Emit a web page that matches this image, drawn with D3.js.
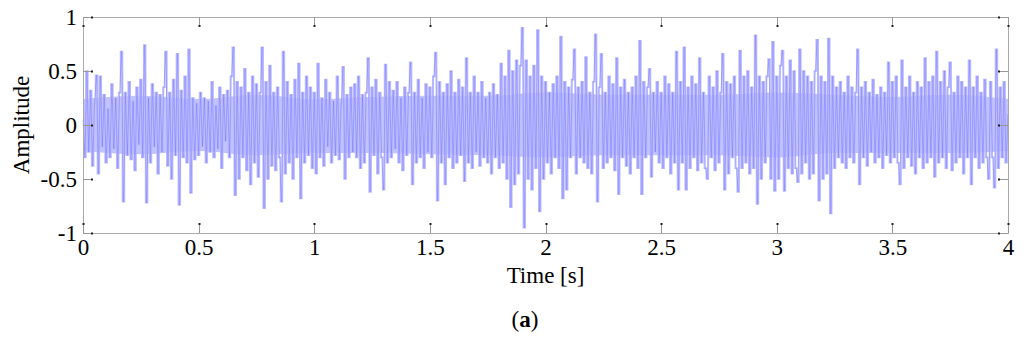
<!DOCTYPE html>
<html>
<head>
<meta charset="utf-8">
<script src="https://cdn.jsdelivr.net/npm/d3@7"></script>
<style>
  body { margin: 0; background: #fff; }
  text { font-family: "Liberation Serif", "Times New Roman", serif; fill: #000; }
</style>
</head>
<body>
<div id="chart"></div>
<script>
// signal samples (one value every 1/120 s)
var amplitude = [
  .05,-.3,.5,-.25,.32,-.38,.2,.46,-.45,.45,-.2,.28,-.35,.15,-.3,.38,-.22,.25,-.4,.3,
  .68,-.71,.3,-.28,.4,-.32,.22,-.42,.35,-.18,.42,-.3,.74,-.72,.25,-.35,.38,-.2,.3,-.45,
  .28,-.25,.35,.68,-.38,.3,-.5,.42,-.28,.66,-.74,.32,-.3,.45,-.35,.7,-.63,.25,-.32,.2,
  -.28,.3,-.2,.25,-.35,.22,-.25,.4,-.3,.18,-.22,.35,-.4,.28,-.15,.32,-.3,.45,.72,-.65,
  .4,-.5,.35,-.3,.52,-.42,.3,-.55,.45,-.35,.38,-.48,.3,.72,-.77,.4,-.5,.55,-.38,.3,
  -.42,.35,-.3,-.71,.68,-.45,.4,-.35,.28,-.5,.42,-.3,.57,-.68,.3,-.35,.45,-.28,.35,-.4,
  .3,-.45,.57,-.3,.25,-.38,.42,-.2,.3,-.35,.22,-.28,.45,-.32,.2,.54,-.5,.28,-.3,.35,
  -.25,.38,-.3,.45,-.4,.28,-.35,.3,.62,-.62,.35,-.28,.42,-.45,.3,-.3,-.6,.56,-.35,.4,
  -.3,.32,-.22,.4,-.35,.25,-.42,.35,-.28,.3,.58,-.55,.3,-.35,.42,-.3,.25,-.4,.38,-.25,
  .35,-.3,.45,.67,-.7,.4,-.35,.3,-.55,.38,-.3,.5,-.4,.3,-.35,.42,-.28,.35,-.52,.62,
  -.35,.3,-.4,.45,-.25,.3,-.38,.4,-.3,.25,-.35,.3,-.45,.38,-.3,.28,-.4,.57,-.35,.45,
  -.5,.69,-.76,.5,-.55,.6,-.45,.55,.9,-.95,.6,-.5,.45,-.6,.55,-.4,.88,-.8,.45,-.5,
  .4,-.35,.3,-.45,.38,-.3,.45,-.4,.82,-.68,.4,-.6,.35,-.3,.42,.7,-.45,.35,-.3,.4,
  -.35,.63,-.4,.3,-.45,.4,.84,-.71,.35,.66,-.4,.3,-.35,.45,-.3,.38,-.42,.62,-.64,.35,
  -.3,.42,-.38,.3,-.45,.35,-.3,.45,-.4,.78,-.64,.4,-.3,.35,.52,-.48,.3,-.25,.4,-.35,
  .3,-.4,.45,-.3,.38,-.45,.3,-.35,.68,-.6,.4,-.35,.72,-.6,.35,-.4,.45,-.3,.38,-.42,
  .62,-.35,.3,-.4,-.5,.45,-.3,.35,-.42,.5,-.35,.3,.66,-.6,.4,-.45,.38,-.3,.45,-.4,
  -.62,.69,-.4,.45,-.35,.5,-.45,.35,-.4,.83,-.73,.45,-.5,.4,-.35,.45,.61,-.5,.77,-.61,
  .45,-.5,.55,.69,-.61,.45,-.4,.6,-.45,.5,-.4,-.53,.7,-.45,.5,-.35,.45,-.5,.4,-.45,
  .5,.79,-.7,.45,-.5,.4,-.45,.8,-.82,.45,-.4,.35,-.3,.4,-.35,.3,-.4,.45,-.3,.35,
  -.35,.3,.7,-.55,.35,-.3,.4,-.38,.3,-.25,.42,-.35,.28,-.3,.35,-.4,.3,-.28,.58,-.35,
  .4,-.3,.45,-.35,-.55,.6,-.4,.35,-.3,.45,-.38,.3,-.45,.4,-.3,.35,-.4,.62,-.35,.4,
  -.3,.45,-.48,.68,-.35,.4,-.3,.5,-.4,.35,.58,-.42,.3,-.35,.45,-.3,.4,-.45,.35,-.3,
  .6,-.55,.35,-.3,.45,-.4,.3,-.35,.42,-.3,-.5,.4,-.3,-.58,.7,-.4,.35,-.3,.4,-.35,
  .1
];
var sampleRate = 120;

// dense body of the trace, read every 0.25 s
var coreTime  = [0, .25, .5, .75, 1, 1.25, 1.5, 1.75, 2, 2.25, 2.5, 2.75, 3, 3.25, 3.5, 3.75, 4];
var coreUpper = [.24, .27, .24, .28, .24, .26, .27, .27, .3, .28, .28, .28, .3, .28, .26, .28, .24];
var coreLower = [-.24, -.27, -.24, -.28, -.26, -.26, -.27, -.28, -.3, -.28, -.28, -.28, -.3, -.26, -.26, -.26, -.24];

var xTicks = [0, 0.5, 1, 1.5, 2, 2.5, 3, 3.5, 4];
var yTicks = [-1, -0.5, 0, 0.5, 1];

var width = 1024, height = 342;
var plotLeft = 83, plotRight = 1008, plotTop = 17, plotBottom = 233;

var svg = d3.select("#chart").append("svg")
  .attr("width", width)
  .attr("height", height);

svg.append("rect").attr("width", width).attr("height", height).attr("fill", "#fff");

var x = d3.scaleLinear().domain([0, 4]).range([plotLeft, plotRight]),
  y = d3.scaleLinear().domain([-1, 1]).range([plotBottom, plotTop]);

/* pale body */
var core = d3.area()
  .x(function (d, i) { return x(coreTime[i]); })
  .y0(function (d, i) { return y(coreLower[i]); })
  .y1(function (d, i) { return y(coreUpper[i]); })
  .curve(d3.curveMonotoneX);

svg.append("path")
  .datum(coreTime)
  .attr("d", core)
  .attr("fill", "#c2c2ff");

/* the signal trace: pale stepped columns, then a thin darker pass on top */
var stepLine = d3.line()
  .x(function (d, i) { return x(i / sampleRate); })
  .y(function (d) { return y(d); })
  .curve(d3.curveStep);

var line = d3.line()
  .x(function (d, i) { return x(i / sampleRate); })
  .y(function (d) { return y(d); });

svg.append("path")
  .datum(amplitude)
  .attr("d", stepLine)
  .attr("fill", "none")
  .attr("stroke", "#babaff")
  .attr("stroke-width", 1.6);

svg.append("path")
  .datum(amplitude)
  .attr("d", line)
  .attr("fill", "none")
  .attr("stroke", "#3a3aff")
  .attr("stroke-opacity", 0.32)
  .attr("stroke-width", 0.8)
  .attr("stroke-linejoin", "round");

/* box round the plot */
svg.append("rect")
  .attr("x", plotLeft + 0.5).attr("y", plotTop + 0.5)
  .attr("width", plotRight - plotLeft).attr("height", plotBottom - plotTop)
  .attr("fill", "none")
  .attr("stroke", "#aaa");

/* tick labels through d3 axes, ticks drawn by hand below */
var fmt = function (d) { return String(d); };
var xAxis = svg.append("g")
  .attr("transform", "translate(0," + plotBottom + ")")
  .call(d3.axisBottom(x).tickValues(xTicks).tickSize(0).tickPadding(6).tickFormat(fmt));
var yAxis = svg.append("g")
  .attr("transform", "translate(" + plotLeft + ",0)")
  .call(d3.axisLeft(y).tickValues(yTicks).tickSize(0).tickPadding(6).tickFormat(fmt));
[xAxis, yAxis].forEach(function (g) {
  g.select(".domain").remove();
  g.selectAll("text").style("font-size", "23px").style("font-family", "Liberation Serif, serif").attr("fill", "#000");
});

var tickLen = 10, tickColor = "#999", tipColor = "#222";

function tick(x1, y1, x2, y2, tx, ty) {
  svg.append("line")
    .attr("x1", x1).attr("y1", y1).attr("x2", x2).attr("y2", y2)
    .attr("stroke", tickColor);
  svg.append("rect")
    .attr("x", tx).attr("y", ty).attr("width", 2).attr("height", 2)
    .attr("fill", tipColor);
}

xTicks.forEach(function (d) {
  var px = Math.round(x(d)) + 0.5;
  tick(px, plotTop, px, plotTop + tickLen, px - 1, plotTop + tickLen - 2);
  tick(px, plotBottom, px, plotBottom - tickLen, px - 1, plotBottom - tickLen);
});
yTicks.forEach(function (d) {
  var py = Math.round(y(d)) + 0.5;
  tick(plotLeft, py, plotLeft + tickLen, py, plotLeft + tickLen - 2, py - 1);
  tick(plotRight, py, plotRight - tickLen, py, plotRight - tickLen, py - 1);
});

/* titles */
svg.append("text")
  .attr("x", (plotLeft + plotRight) / 2).attr("y", 283)
  .attr("text-anchor", "middle")
  .style("font-size", "23px")
  .text("Time [s]");

svg.append("text")
  .attr("transform", "translate(29," + (plotTop + plotBottom) / 2 + ") rotate(-90)")
  .attr("text-anchor", "middle")
  .style("font-size", "23px")
  .text("Amplitude");

var caption = svg.append("text")
  .attr("x", 525).attr("y", 327)
  .attr("text-anchor", "middle")
  .style("font-size", "23px");
caption.append("tspan").text("(");
caption.append("tspan").style("font-weight", "bold").text("a");
caption.append("tspan").text(")");
</script>
</body>
</html>
